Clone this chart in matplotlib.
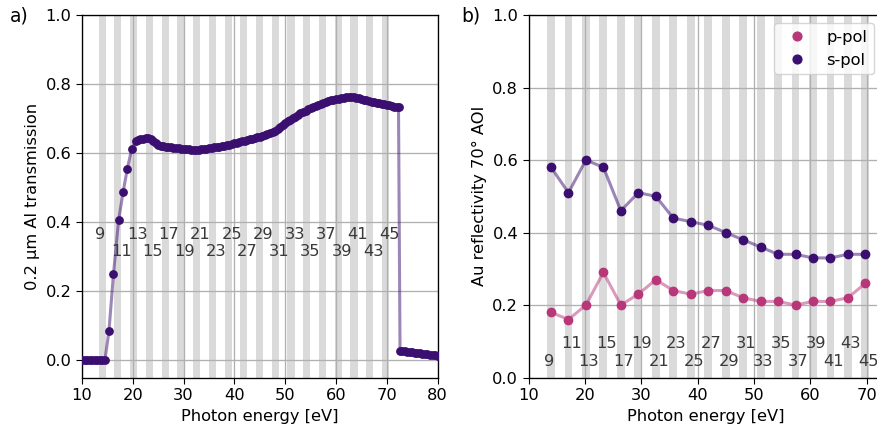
import matplotlib.pyplot as plt
from matplotlib.lines import Line2D
import numpy as np

# ---------- Data ----------
E0 = 1.55  # fundamental photon energy [eV] (800 nm driver)
orders = [9, 11, 13, 15, 17, 19, 21, 23, 25, 27, 29, 31, 33, 35, 37, 39, 41, 43, 45]

# 0.2 um Al filter transmission
al_energy = [
    10.0, 10.5, 11.0, 11.5, 12.0, 12.5, 13.0, 13.5, 14.0, 14.5,
    15.3, 16.2, 17.2, 18.1, 18.9, 19.8, 20.7,
    21.0, 21.5, 22.0, 22.5, 23.0, 23.5, 24.0, 24.5, 25.0, 25.5,
    26.0, 26.5, 27.0, 27.5, 28.0, 28.5, 29.0, 29.5, 30.0, 30.5,
    31.0, 31.5, 32.0, 32.5, 33.0, 33.5, 34.0, 34.5, 35.0, 35.5,
    36.0, 36.5, 37.0, 37.5, 38.0, 38.5, 39.0, 39.5, 40.0, 40.5,
    41.0, 41.5, 42.0, 42.5, 43.0, 43.5, 44.0, 44.5, 45.0, 45.5,
    46.0, 46.5, 47.0, 47.5, 48.0, 48.5, 49.0, 49.5, 50.0, 50.5,
    51.0, 51.5, 52.0, 52.5, 53.0, 53.5, 54.0, 54.5, 55.0, 55.5,
    56.0, 56.5, 57.0, 57.5, 58.0, 58.5, 59.0, 59.5, 60.0, 60.5,
    61.0, 61.5, 62.0, 62.5, 63.0, 63.5, 64.0, 64.5, 65.0, 65.5,
    66.0, 66.5, 67.0, 67.5, 68.0, 68.5, 69.0, 69.5, 70.0, 70.5,
    71.0, 71.5, 72.0, 72.3,
    72.6, 73.0, 73.5, 74.0, 74.5, 75.0, 75.5, 76.0, 76.5, 77.0,
    77.5, 78.0, 78.5, 79.0, 79.5, 80.0,
]
al_trans = [
    0.0, 0.0, 0.0, 0.0, 0.0, 0.0, 0.0, 0.0, 0.0, 0.0,
    0.084, 0.250, 0.406, 0.488, 0.553, 0.613, 0.636,
    0.637, 0.640, 0.642, 0.643, 0.644, 0.641, 0.635, 0.629, 0.625, 0.622,
    0.620, 0.619, 0.618, 0.617, 0.616, 0.615, 0.614, 0.613, 0.612, 0.611,
    0.611, 0.610, 0.610, 0.609, 0.610, 0.611, 0.612, 0.613, 0.614, 0.615,
    0.617, 0.618, 0.619, 0.621, 0.622, 0.624, 0.625, 0.627, 0.629, 0.630,
    0.632, 0.634, 0.636, 0.638, 0.640, 0.642, 0.644, 0.646, 0.648, 0.650,
    0.653, 0.655, 0.658, 0.661, 0.665, 0.671, 0.677, 0.682, 0.687, 0.692,
    0.697, 0.702, 0.706, 0.711, 0.715, 0.719, 0.723, 0.727, 0.730, 0.733,
    0.737, 0.740, 0.743, 0.746, 0.749, 0.751, 0.753, 0.755, 0.757, 0.758,
    0.759, 0.760, 0.762, 0.763, 0.764, 0.763, 0.761, 0.759, 0.757, 0.755,
    0.753, 0.751, 0.749, 0.747, 0.746, 0.744, 0.742, 0.741, 0.739, 0.738,
    0.736, 0.735, 0.734, 0.733,
    0.028, 0.027, 0.026, 0.025, 0.024, 0.023, 0.022, 0.021, 0.020, 0.019,
    0.018, 0.017, 0.016, 0.015, 0.014, 0.013,
]

# Au reflectivity at 70 deg AOI, one value per harmonic
refl_p = [0.18, 0.16, 0.20, 0.29, 0.20, 0.23, 0.27, 0.24, 0.23, 0.24,
          0.24, 0.22, 0.21, 0.21, 0.20, 0.21, 0.21, 0.22, 0.26]
refl_s = [0.58, 0.51, 0.60, 0.58, 0.46, 0.51, 0.50, 0.44, 0.43, 0.42,
          0.40, 0.38, 0.36, 0.34, 0.34, 0.33, 0.33, 0.34, 0.34]

harm_energy = np.array(orders) * E0

# ---------- Style ----------
c_s = "#3b0f70"
c_p = "#b73779"
band_col = "#dadada"
label_col = "#3a3a3a"
fs = 11.7

plt.rcParams["xtick.major.size"] = 4.1
plt.rcParams["ytick.major.size"] = 4.1
plt.rcParams["axes.linewidth"] = 0.95

fig = plt.figure(figsize=(8.77, 4.3), dpi=100)
ax1 = fig.add_axes([0.0935, 0.122, 0.4055, 0.843])
ax2 = fig.add_axes([0.6029, 0.122, 0.4028, 0.843])

for ax in (ax1, ax2):
    for e in harm_energy:
        ax.axvspan(e - 0.7, e + 0.7, color=band_col, lw=0, zorder=1)
    ax.grid(True, color="#b0b0b0", lw=0.95)
    ax.set_xlabel("Photon energy [eV]", fontsize=fs)
    ax.tick_params(labelsize=fs)

# ---------- a) Al transmission ----------
ax1.plot(al_energy, al_trans, "-", color=c_s, alpha=0.5, lw=2.2, zorder=3)
ax1.plot(al_energy, al_trans, "o", color=c_s, ms=5.3, zorder=4)
for i, (n, e) in enumerate(zip(orders, harm_energy)):
    y = 0.365 if i % 2 == 0 else 0.315
    ax1.text(e - 1.3, y, str(n), ha="left", va="center", fontsize=fs,
             color=label_col, zorder=5)
ax1.set_xlim(10, 80)
ax1.set_ylim(-0.05, 1.0)
ax1.set_xticks(range(10, 81, 10))
ax1.set_yticks([0.0, 0.2, 0.4, 0.6, 0.8, 1.0])
ax1.set_ylabel("0.2 µm Al transmission", fontsize=fs)

# ---------- b) Au reflectivity ----------
ax2.plot(harm_energy, refl_p, "-", color=c_p, alpha=0.5, lw=2.2, zorder=3)
ax2.plot(harm_energy, refl_s, "-", color=c_s, alpha=0.5, lw=2.2, zorder=3)
ax2.plot(harm_energy, refl_p, "o", color=c_p, ms=6, zorder=4)
ax2.plot(harm_energy, refl_s, "o", color=c_s, ms=6, zorder=4)
for i, (n, e) in enumerate(zip(orders, harm_energy)):
    y = 0.044 if i % 2 == 0 else 0.095
    ax2.text(e - 1.3, y, str(n), ha="left", va="center", fontsize=fs,
             color=label_col, zorder=5)
ax2.set_xlim(10, 72.7)
ax2.set_ylim(0, 1.0)
ax2.set_xticks(range(10, 71, 10))
ax2.set_yticks([0.0, 0.2, 0.4, 0.6, 0.8, 1.0])
ax2.set_ylabel("Au reflectivity 70° AOI", fontsize=fs)

handles = [
    Line2D([], [], ls="none", marker="o", ms=6.3, color=c_p, label="p-pol"),
    Line2D([], [], ls="none", marker="o", ms=6.3, color=c_s, label="s-pol"),
]
ax2.legend(handles=handles, loc="upper right", fontsize=fs)

fig.text(0.022, 0.962, "a)", fontsize=13.5, ha="center", va="center")
fig.text(0.537, 0.962, "b)", fontsize=13.5, ha="center", va="center")

plt.savefig("out.png", dpi=100)
